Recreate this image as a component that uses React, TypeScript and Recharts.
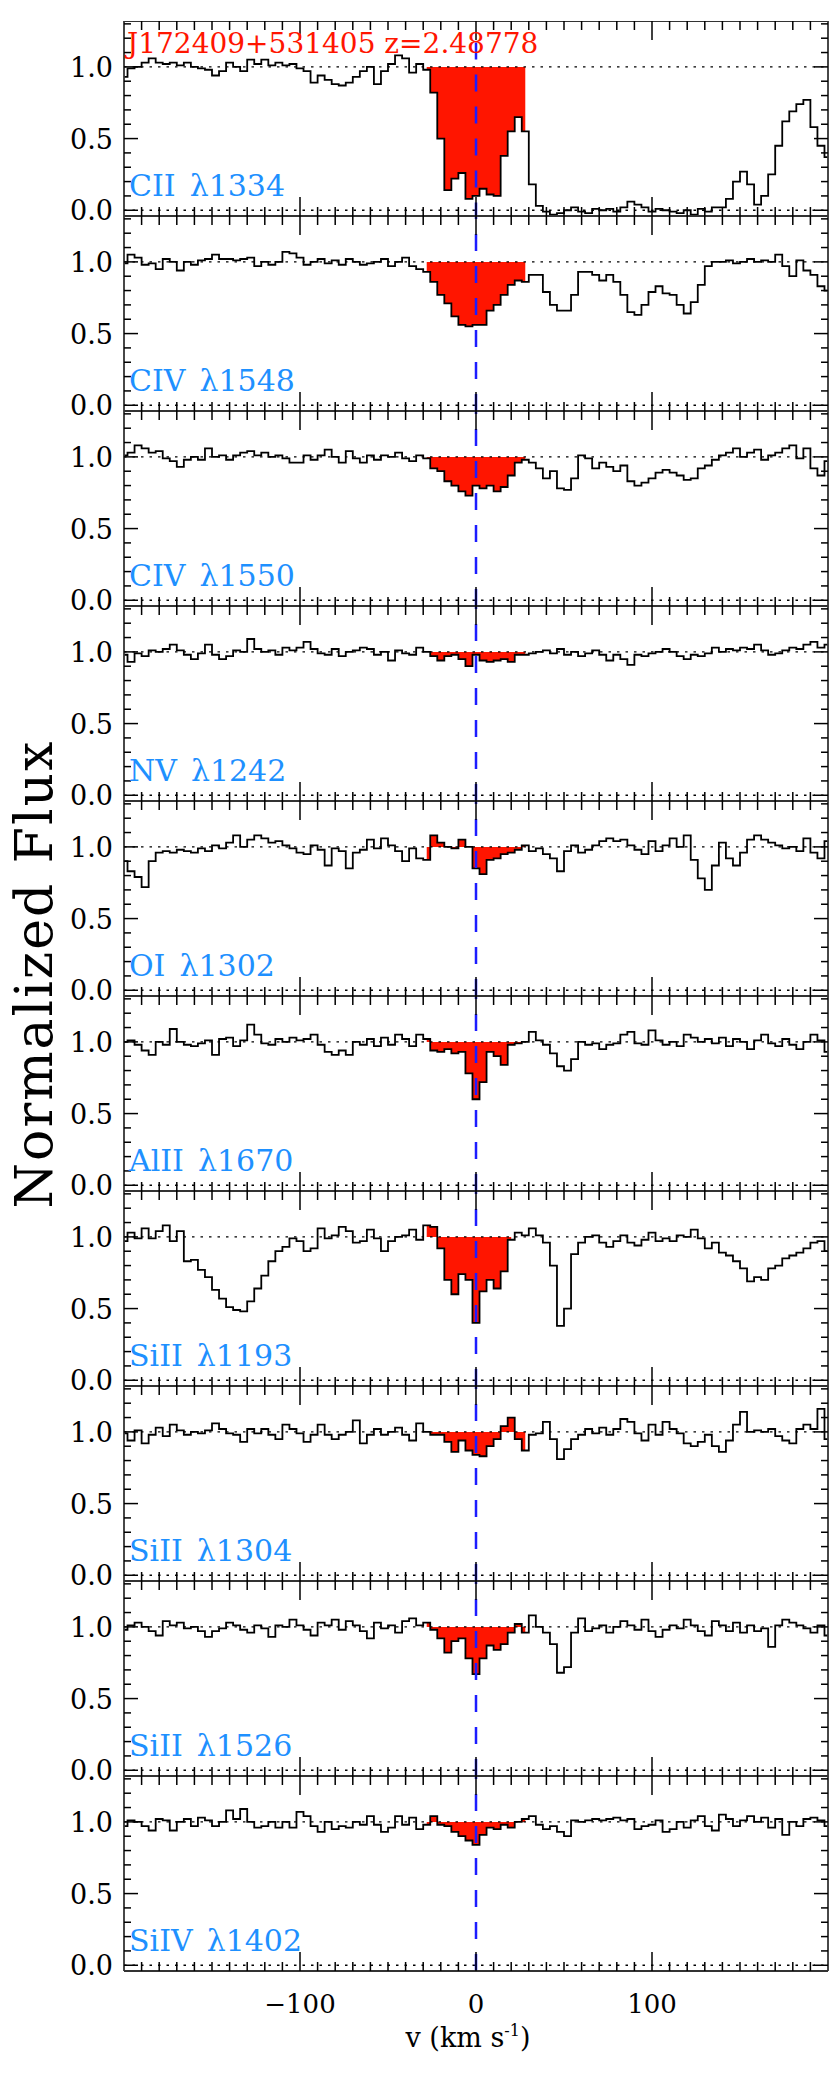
import React from 'react';
import { ComposedChart, Line, Area, XAxis, YAxis, ReferenceLine } from 'recharts';

// velocity grid (km/s), one value per spectral bin
const VEL = [
  -200, -196, -192, -188, -184, -180, -176, -172, -168, -164,
  -160, -156, -152, -148, -144, -140, -136, -132, -128, -124,
  -120, -116, -112, -108, -104, -100, -96, -92, -88, -84,
  -80, -76, -72, -68, -64, -60, -56, -52, -48, -44,
  -40, -36, -32, -28, -24, -20, -16, -12, -8, -4,
  0, 4, 8, 12, 16, 20, 24, 28, 32, 36,
  40, 44, 48, 52, 56, 60, 64, 68, 72, 76,
  80, 84, 88, 92, 96, 100, 104, 108, 112, 116,
  120, 124, 128, 132, 136, 140, 144, 148, 152, 156,
  160, 164, 168, 172, 176, 180, 184, 188, 192, 196,
  200,
];

// normalized flux per transition
const CII_1334 = [
  0.93, 0.99, 1.0, 1.03, 1.06, 1.03, 1.02, 1.03, 1.01, 1.03,
  1.0, 0.99, 0.98, 0.94, 0.97, 1.03, 1.0, 0.97, 1.05, 1.02,
  1.05, 1.01, 1.03, 1.01, 1.02, 0.99, 0.97, 0.89, 0.94, 0.91,
  0.88, 0.87, 0.89, 0.93, 0.97, 1.0, 0.88, 0.97, 1.02, 1.08,
  1.06, 0.96, 1.02, 0.98, 0.82, 0.50, 0.14, 0.22, 0.26, 0.08,
  0.10, 0.15, 0.11, 0.10, 0.38, 0.55, 0.65, 0.55, 0.18, 0.03,
  -0.01, -0.03, -0.02, 0.0, 0.02, -0.01, -0.02, 0.01, 0.0, 0.01,
  -0.01, 0.02, 0.06, 0.04, 0.02, -0.01, 0.01, 0.0, -0.01, -0.02,
  0.0, -0.03, 0.01, -0.01, 0.02, 0.02, 0.08, 0.2, 0.27, 0.18,
  0.04, 0.1, 0.25, 0.45, 0.62, 0.69, 0.74, 0.77, 0.58, 0.45,
  0.37,
];

const CIV_1548 = [
  0.99, 1.05, 1.03, 0.98, 0.99, 0.95, 1.02, 1.0, 0.94, 1.0,
  0.98, 1.01, 1.02, 1.05, 1.02, 1.02, 1.01, 1.02, 1.03, 0.97,
  1.0, 0.98, 1.0, 1.07, 1.06, 1.03, 0.98, 1.0, 1.02, 0.99,
  1.01, 0.98, 1.02, 1.0, 0.98, 0.99, 1.0, 1.02, 0.97, 1.0,
  1.03, 0.97, 0.95, 0.93, 0.86, 0.77, 0.71, 0.62, 0.56, 0.55,
  0.56, 0.56, 0.66, 0.70, 0.77, 0.84, 0.87, 0.86, 0.91, 0.91,
  0.79, 0.70, 0.66, 0.66, 0.77, 0.93, 0.93, 0.91, 0.87, 0.91,
  0.86, 0.77, 0.65, 0.63, 0.70, 0.79, 0.83, 0.78, 0.77, 0.70,
  0.64, 0.72, 0.84, 0.97, 1.0, 1.0, 1.01, 0.99, 1.0, 1.02,
  1.0, 1.01, 1.0, 1.05, 0.97, 0.90, 1.01, 0.94, 0.91, 0.83,
  0.80,
];

const CIV_1550 = [
  1.01, 1.03, 1.08, 1.06, 1.03, 1.04, 0.99, 0.97, 0.93, 0.98,
  1.0, 0.98, 1.06, 1.0, 1.01, 0.98, 1.01, 1.03, 1.04, 1.01,
  1.03, 1.0, 1.01, 0.99, 0.96, 0.96, 1.01, 0.98, 1.01, 1.05,
  1.0, 0.96, 1.04, 0.99, 0.96, 1.01, 0.98, 1.01, 1.0, 1.03,
  0.99, 0.97, 1.01, 0.99, 0.92, 0.90, 0.83, 0.80, 0.76, 0.73,
  0.80, 0.78, 0.80, 0.76, 0.79, 0.87, 0.96, 0.98, 0.96, 0.92,
  0.85, 0.90, 0.78, 0.77, 0.85, 1.01, 0.99, 0.92, 0.96, 0.93,
  0.90, 0.94, 0.83, 0.80, 0.82, 0.85, 0.89, 0.91, 0.89, 0.87,
  0.84, 0.85, 0.92, 0.94, 0.98, 1.01, 1.03, 1.06, 1.0, 1.03,
  1.05, 0.98, 1.01, 1.03, 1.06, 1.08, 0.99, 1.06, 0.92, 0.87,
  0.97,
];

const NV_1242 = [
  0.98, 0.93, 0.99, 0.97, 1.01, 1.0, 1.02, 1.05, 1.01, 0.98,
  0.95, 0.99, 1.05, 0.98, 0.95, 0.97, 1.01, 1.0, 1.09, 1.02,
  1.0, 1.01, 0.98, 1.03, 1.01, 1.03, 1.07, 1.02, 0.99, 0.98,
  1.02, 0.97, 1.0, 1.01, 1.03, 1.02, 0.98, 1.0, 0.94, 1.01,
  0.99, 0.98, 1.03, 1.0, 0.97, 0.94, 0.97, 0.98, 0.95, 0.90,
  0.98, 0.94, 0.93, 0.94, 0.95, 0.93, 0.98, 0.98, 0.99, 1.0,
  1.01, 0.99, 1.02, 0.98, 1.0, 0.97, 0.99, 1.01, 0.98, 0.94,
  0.98, 0.95, 0.91, 0.98, 0.97, 0.99, 1.0, 1.02, 1.0, 0.97,
  0.95, 0.98, 0.97, 0.99, 1.03, 1.0, 1.02, 1.01, 1.03, 1.02,
  1.05, 1.01, 0.98, 0.99, 1.01, 1.03, 1.02, 1.05, 1.07, 1.03,
  1.05,
];

const OI_1302 = [
  0.90, 0.83, 0.79, 0.72, 0.90, 0.96, 0.97, 0.96, 0.98, 0.97,
  0.96, 0.99, 0.97, 1.01, 0.99, 1.03, 1.08, 1.0, 1.05, 1.08,
  1.06, 1.03, 1.04, 1.01, 0.99, 0.96, 0.95, 1.01, 0.98, 0.87,
  0.99, 0.97, 0.85, 0.96, 0.98, 1.05, 0.99, 1.06, 1.01, 0.97,
  0.90, 0.99, 0.92, 0.91, 1.08, 1.03, 1.0, 0.99, 1.05, 1.0,
  0.85, 0.81, 0.91, 0.92, 0.95, 0.96, 0.98, 1.01, 0.97, 0.99,
  0.95, 0.92, 0.83, 0.97, 1.01, 0.96, 0.98, 1.01, 1.04, 1.06,
  1.04, 1.05, 1.01, 0.98, 0.95, 1.04, 0.97, 1.01, 1.06, 1.0,
  1.08, 0.91, 0.78, 0.70, 0.87, 1.03, 0.92, 0.87, 0.96, 1.05,
  1.08, 1.05, 1.03, 1.01, 0.99, 1.0, 0.97, 1.06, 0.96, 0.92,
  1.04,
];

const AlII_1670 = [
  1.0, 1.01, 0.98, 0.94, 0.91, 1.0, 0.98, 1.09, 1.0, 0.98,
  0.97, 0.99, 1.01, 0.91, 1.02, 1.03, 0.97, 1.01, 1.12, 1.05,
  0.99, 0.98, 1.02, 1.0, 1.03, 1.01, 1.02, 1.05, 0.98, 0.93,
  0.91, 0.94, 0.91, 1.0, 0.98, 1.02, 0.97, 1.03, 0.98, 1.05,
  1.02, 0.97, 1.05, 1.02, 0.94, 0.93, 0.95, 0.92, 0.93, 0.78,
  0.60, 0.72, 0.93, 0.90, 0.84, 0.98, 0.99, 1.0, 1.07, 1.01,
  0.98, 0.92, 0.83, 0.80, 0.88, 1.0, 0.98, 0.99, 0.95, 0.98,
  0.99, 1.05, 1.07, 0.99, 0.98, 1.08, 1.01, 0.98, 1.0, 0.97,
  1.05, 1.03, 1.0, 1.02, 0.99, 1.03, 0.97, 1.02, 1.0, 0.95,
  1.01, 1.05, 0.99, 0.97, 1.02, 0.98, 0.95, 1.0, 1.05, 1.01,
  0.93,
];

const SiII_1193 = [
  0.97, 1.03, 0.99, 1.06, 0.99, 1.04, 1.08, 0.97, 1.04, 0.83,
  0.84, 0.77, 0.72, 0.63, 0.57, 0.51, 0.49, 0.48, 0.55, 0.64,
  0.73, 0.83, 0.90, 0.93, 0.99, 0.97, 0.90, 0.92, 1.06, 0.99,
  1.01, 1.07, 1.04, 0.96, 0.97, 1.05, 0.99, 0.90, 0.97, 1.0,
  1.01, 1.05, 0.98, 1.08, 1.07, 0.92, 0.70, 0.60, 0.74, 0.70,
  0.40, 0.62, 0.70, 0.64, 0.76, 0.98, 1.03, 1.01, 1.06, 1.01,
  0.96, 0.80, 0.38, 0.50, 0.88, 0.96, 1.0, 1.01, 0.96, 0.93,
  0.97, 1.01, 0.96, 0.94, 0.98, 1.03, 0.97, 0.99, 0.97, 1.01,
  1.0, 1.05, 0.99, 0.92, 0.96, 0.89, 0.87, 0.83, 0.78, 0.69,
  0.72, 0.70, 0.78, 0.80, 0.85, 0.87, 0.89, 0.92, 0.96, 0.97,
  0.90,
];

const SiII_1304 = [
  0.99, 0.94, 1.01, 0.92, 0.98, 1.03, 0.97, 1.05, 1.01, 0.98,
  1.0, 0.99, 1.01, 1.06, 1.02, 0.99, 0.98, 0.93, 1.02, 0.99,
  1.02, 0.98, 0.95, 1.05, 1.02, 0.99, 0.93, 0.98, 1.05, 0.98,
  0.95, 0.98, 1.0, 1.08, 0.92, 0.98, 1.02, 0.98, 1.0, 1.03,
  0.98, 0.94, 1.06, 1.0, 0.98, 0.98, 0.93, 0.86, 0.94, 0.87,
  0.84, 0.83, 0.90, 0.95, 1.04, 1.10, 0.95, 0.87, 0.98, 0.99,
  1.07, 0.95, 0.81, 0.88, 0.95, 0.98, 1.02, 0.99, 1.03, 0.98,
  1.02, 1.09, 1.07, 0.99, 0.94, 1.05, 0.98, 1.07, 1.02, 0.99,
  0.92, 0.90, 0.93, 0.98, 0.90, 0.86, 0.94, 1.05, 1.14, 1.0,
  1.01, 1.0, 1.02, 0.97, 0.94, 0.92, 1.02, 1.05, 1.02, 1.16,
  0.95,
];

const SiII_1526 = [
  0.98, 1.01, 1.03, 1.0, 0.97, 0.94, 1.04, 1.01, 1.03, 0.99,
  1.0, 0.97, 0.93, 0.97, 0.99, 1.03, 1.01, 0.98, 0.96, 1.01,
  0.99, 0.93, 1.01, 1.0, 1.05, 1.01, 0.98, 0.94, 1.03, 1.01,
  1.05, 0.98, 1.04, 1.01, 0.97, 0.92, 1.03, 0.99, 1.01, 0.96,
  1.04, 1.06, 1.01, 1.03, 0.98, 0.92, 0.82, 0.90, 0.92, 0.78,
  0.67, 0.78, 0.87, 0.84, 0.88, 0.96, 1.02, 0.96, 1.08, 1.0,
  0.96, 0.88, 0.68, 0.72, 0.96, 1.06, 0.97, 0.99, 1.01, 0.96,
  1.0, 1.04, 1.01, 0.98, 1.05, 0.97, 0.93, 0.98, 1.01, 0.99,
  1.05, 1.01, 0.97, 0.94, 1.04, 1.01, 0.97, 1.03, 0.96, 1.01,
  0.97, 0.99, 0.86, 1.01, 1.05, 1.03, 1.01, 0.99, 0.96, 1.01,
  0.94,
];

const SiIV_1402 = [
  0.97, 1.01, 1.0, 0.97, 0.94, 1.02, 1.01, 0.94, 1.0, 1.02,
  0.97, 1.03, 1.01, 0.97, 1.0, 1.08, 1.02, 1.09, 1.0, 0.96,
  0.97, 1.0, 0.96, 1.0, 0.96, 1.07, 1.04, 0.97, 0.93, 1.0,
  0.95, 0.97, 0.96, 1.0, 0.98, 1.04, 0.98, 0.93, 0.96, 1.04,
  0.98, 1.03, 0.95, 0.98, 1.04, 0.98, 0.97, 0.93, 0.90, 0.87,
  0.84, 0.91, 0.96, 0.95, 0.98, 0.96, 1.0, 1.02, 1.04, 0.98,
  0.95, 0.97, 0.93, 0.90, 1.01, 1.0, 1.01, 1.02, 1.01, 1.02,
  1.03, 1.01, 1.02, 0.95, 0.97, 0.98, 1.01, 0.93, 0.95, 1.0,
  0.96, 1.01, 1.04, 0.97, 0.94, 1.05, 1.02, 0.97, 1.01, 1.04,
  1.0, 1.03, 0.96, 1.02, 0.91, 1.0, 0.97, 1.02, 1.03, 1.01,
  0.97,
];

const PANELS = [
  { ion: 'CII', wave: 'λ1334', flux: CII_1334, window: [-28, 28] },
  { ion: 'CIV', wave: 'λ1548', flux: CIV_1548, window: [-28, 28] },
  { ion: 'CIV', wave: 'λ1550', flux: CIV_1550, window: [-28, 28] },
  { ion: 'NV', wave: 'λ1242', flux: NV_1242, window: [-28, 28] },
  { ion: 'OI', wave: 'λ1302', flux: OI_1302, window: [-28, 28] },
  { ion: 'AlII', wave: 'λ1670', flux: AlII_1670, window: [-28, 28] },
  { ion: 'SiII', wave: 'λ1193', flux: SiII_1193, window: [-28, 20] },
  { ion: 'SiII', wave: 'λ1304', flux: SiII_1304, window: [-28, 28] },
  { ion: 'SiII', wave: 'λ1526', flux: SiII_1526, window: [-28, 28] },
  { ion: 'SiIV', wave: 'λ1402', flux: SiIV_1402, window: [-28, 28] },
];

const TITLE = 'J172409+531405 z=2.48778';

const X_DOMAIN = [-200, 200];
const Y_DOMAIN = [-0.04, 1.32];
const X_TICKS = [
  -190, -180, -170, -160, -150, -140, -130, -120, -110, -100,
  -90, -80, -70, -60, -50, -40, -30, -20, -10, 0,
  10, 20, 30, 40, 50, 60, 70, 80, 90, 100,
  110, 120, 130, 140, 150, 160, 170, 180, 190,
];
const X_MAJOR = [-100, 0, 100];
const X_MAJOR_LABELS = ['\u2212100', '0', '100'];
const Y_TICKS = [0, 0.1, 0.2, 0.3, 0.4, 0.5, 0.6, 0.7, 0.8, 0.9, 1.0, 1.1, 1.2, 1.3];
const Y_MAJOR = [0, 0.5, 1.0];
const Y_MAJOR_LABELS = ['0.0', '0.5', '1.0'];
// the v=0 marker in the first panel stops just under the title
const FIRST_MARKER_TOP = 1.17;

// layout
const W = 830;
const H = 2076;
const TOP = 21;
const PANEL_H = 195;
const LEFT = 124;
const PLOT_W = 704;
const PAD_H = 18; // room below each panel so the "0.0" label is not clipped
const AXIS_H = 70;
const FONT = '"DejaVu Serif", serif';
const RED = '#ff1500';
const BLUE_TEXT = '#1e90ff';
const TICK = '#000';

const majorIndex = (list: number[], v: number) => list.findIndex((m) => Math.abs(m - v) < 1e-6);

function Panel({ panel, first, last }: { panel: (typeof PANELS)[number]; first: boolean; last: boolean }) {
  const rows = VEL.map((v, i) => ({
    v,
    flux: panel.flux[i],
    fill: v >= panel.window[0] && v <= panel.window[1] ? panel.flux[i] : null,
  }));
  const right = LEFT + PLOT_W;
  const axisH = last ? AXIS_H : PAD_H;

  const xTick = (props: any) => {
    const x = props.payload.coordinate;
    const k = majorIndex(X_MAJOR, props.payload.value);
    const len = k >= 0 ? 19 : 9;
    return (
      <g>
        <line x1={x} x2={x} y1={PANEL_H} y2={PANEL_H - len} stroke={TICK} strokeWidth={1.5} />
        <line x1={x} x2={x} y1={0} y2={len} stroke={TICK} strokeWidth={1.5} />
        {last && k >= 0 && (
          <text x={x} y={PANEL_H + 42} textAnchor="middle" fontSize={26} fontFamily={FONT} fill="#000">
            {X_MAJOR_LABELS[k]}
          </text>
        )}
      </g>
    );
  };

  const yTick = (props: any) => {
    const y = props.payload.coordinate;
    const k = majorIndex(Y_MAJOR, props.payload.value);
    const len = k >= 0 ? 14 : 7;
    return (
      <g>
        <line x1={LEFT} x2={LEFT + len} y1={y} y2={y} stroke={TICK} strokeWidth={1.5} />
        <line x1={right} x2={right - len} y1={y} y2={y} stroke={TICK} strokeWidth={1.5} />
        {k >= 0 && (
          <text x={113} y={y + 10} textAnchor="end" fontSize={27} fontFamily={FONT} fill="#000">
            {Y_MAJOR_LABELS[k]}
          </text>
        )}
      </g>
    );
  };

  return (
    <ComposedChart
      width={W}
      height={PANEL_H + axisH}
      data={rows}
      margin={{ top: 0, right: W - LEFT - PLOT_W, bottom: 0, left: 0 }}
    >
      <XAxis
        dataKey="v"
        type="number"
        domain={X_DOMAIN}
        ticks={X_TICKS}
        interval={0}
        allowDataOverflow
        height={axisH}
        tickLine={false}
        axisLine={false}
        tick={xTick}
      />
      <YAxis
        type="number"
        domain={Y_DOMAIN}
        ticks={Y_TICKS}
        interval={0}
        allowDataOverflow
        width={LEFT}
        tickLine={false}
        axisLine={false}
        tick={yTick}
      />
      <Area
        dataKey="fill"
        type="step"
        baseValue={1}
        fill={RED}
        fillOpacity={1}
        stroke="none"
        isAnimationActive={false}
        dot={false}
        activeDot={false}
      />
      <ReferenceLine y={1} stroke="#000" strokeWidth={1.3} strokeDasharray="2.5 6" />
      <ReferenceLine y={0} stroke="#000" strokeWidth={1.3} strokeDasharray="2.5 6" />
      <Line
        dataKey="flux"
        type="step"
        stroke="#000"
        strokeWidth={1.8}
        dot={false}
        activeDot={false}
        isAnimationActive={false}
      />
      {first ? (
        <ReferenceLine
          segment={[
            { x: 0, y: FIRST_MARKER_TOP },
            { x: 0, y: Y_DOMAIN[0] },
          ]}
          stroke="#1c1cff"
          strokeWidth={2.5}
          strokeDasharray="17 15"
        />
      ) : (
        <ReferenceLine x={0} stroke="#1c1cff" strokeWidth={2.5} strokeDasharray="17 15" />
      )}
      <ReferenceLine x={X_DOMAIN[0]} stroke="#333" strokeWidth={1.8} ifOverflow="visible" />
      <ReferenceLine x={X_DOMAIN[1]} stroke="#333" strokeWidth={1.8} ifOverflow="visible" />
      <ReferenceLine y={Y_DOMAIN[0]} stroke="#333" strokeWidth={1.8} ifOverflow="visible" />
      <ReferenceLine y={Y_DOMAIN[1]} stroke="#333" strokeWidth={1.8} ifOverflow="visible" />
    </ComposedChart>
  );
}

export default function App() {
  return (
    <div style={{ position: 'absolute', left: 0, top: 0, width: W, height: H, background: '#fff' }}>
      {PANELS.map((p, i) => (
        <div key={p.ion + p.wave} style={{ position: 'absolute', left: 0, top: TOP + i * PANEL_H }}>
          <Panel panel={p} first={i === 0} last={i === PANELS.length - 1} />
        </div>
      ))}
      <svg
        width={W}
        height={H}
        style={{ position: 'absolute', left: 0, top: 0, pointerEvents: 'none' }}
      >
        <text x={127} y={53} fontSize={28} fontFamily={FONT} fill={RED}>
          {TITLE}
        </text>
        {PANELS.map((p, i) => (
          <text
            key={'lbl' + i}
            x={129}
            y={TOP + i * PANEL_H + 175}
            fontSize={30}
            fontFamily={FONT}
            fill={BLUE_TEXT}
          >
            {p.ion}
            <tspan dx={14}>{p.wave}</tspan>
          </text>
        ))}
        <text
          transform="translate(52, 974) rotate(-90)"
          textAnchor="middle"
          fontSize={52}
          letterSpacing={2}
          fontFamily={FONT}
          fill="#000"
        >
          Normalized Flux
        </text>
        <text x={468} y={2047} textAnchor="middle" fontSize={27} fontFamily={FONT} fill="#000">
          v (km s
          <tspan dy={-11} fontSize={16}>-1</tspan>
          <tspan dy={11}>)</tspan>
        </text>
      </svg>
    </div>
  );
}
